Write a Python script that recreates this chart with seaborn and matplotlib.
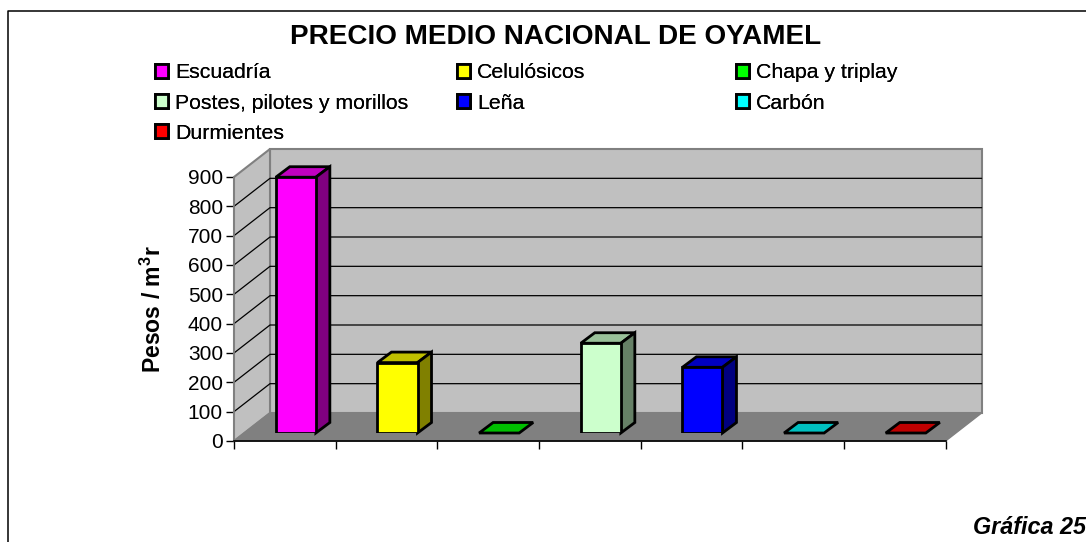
import pandas as pd
import numpy as np
import matplotlib.pyplot as plt
import seaborn as sns
from matplotlib.lines import Line2D
from matplotlib.patches import Polygon

categorias = ["Escuadría", "Celulósicos", "Chapa y triplay", "Postes, pilotes y morillos",
              "Leña", "Carbón", "Durmientes"]
precios = [872, 240, 0, 306, 224, 0, 0]
frente = ["#FF00FF", "#FFFF00", "#00FF00", "#CCFFCC", "#0000FF", "#00FFFF", "#FF0000"]
arriba = ["#C000C0", "#C0C000", "#00C000", "#99C099", "#0000C0", "#00C0C0", "#C00000"]
lado = ["#800080", "#808000", "#008000", "#668066", "#000080", "#008080", "#800000"]
ticks_y = [0, 100, 200, 300, 400, 500, 600, 700, 800, 900]
columnas_legenda = [[0, 3, 6], [1, 4], [2, 5]]

W, H = 1086, 542
sns.set_style("white")
plt.rcParams['font.family'] = ['Liberation Sans']
plt.rcParams['mathtext.fontset'] = 'custom'
plt.rcParams['mathtext.bf'] = 'Liberation Sans:bold'
plt.rcParams['text.color'] = 'black'
plt.rcParams['xtick.color'] = 'black'
plt.rcParams['ytick.color'] = 'black'

df = pd.DataFrame({"categoria": categorias, "precio": precios})
fig = plt.figure(figsize=(W / 100, H / 100), dpi=100)


def caja(x0, y_base, y_tope, ancho=711.6):
    # pixeles a fraccion de figura
    return [x0 / W, 1 - y_base / H, ancho / W, (y_base - y_tope) / H]


ax = fig.add_axes(caja(234, 441, 177))
ax_b = fig.add_axes(caja(245, 433, 169))
for a in (ax, ax_b):
    a.set_xlim(-0.5, 6.5)
    a.set_ylim(0, 900)
ppx = 7 / 711.6
ppy = 900 / 264
dx, dy = 36 * ppx, 28 * ppy

# paredes y piso
gris = "#808080"
ax.add_patch(Polygon([(-0.5 + dx, dy), (6.5 + dx, dy), (6.5 + dx, 900 + dy), (-0.5 + dx, 900 + dy)],
                     fc="#C0C0C0", ec=gris, lw=1.5, clip_on=False, zorder=1))
ax.add_patch(Polygon([(-0.5, 0), (-0.5 + dx, dy), (-0.5 + dx, 900 + dy), (-0.5, 900)],
                     fc="#C0C0C0", ec=gris, lw=1.5, clip_on=False, zorder=1))
ax.add_patch(Polygon([(-0.5, 0), (6.5, 0), (6.5 + dx, dy), (-0.5 + dx, dy)],
                     fc=gris, ec=gris, lw=1, clip_on=False, zorder=2))
for t in ticks_y[1:-1]:
    ax.plot([-0.5, -0.5 + dx, 6.5 + dx], [t, t + dy, t + dy], color="black", lw=0.9,
            clip_on=False, zorder=2)

ax.set_xticks(np.arange(-0.5, 7, 1))
ax.set_xticklabels([])
ax.set_yticks(ticks_y)
ax.tick_params(axis="both", length=6, width=1, color="black", left=True, bottom=True)
ax.tick_params(axis="y", labelsize=15, pad=2)
ax.patch.set_visible(False)
sns.despine(ax=ax, top=True, right=True)
for s in ("left", "bottom"):
    ax.spines[s].set_color("black")
    ax.spines[s].set_linewidth(1.2)
    ax.spines[s].set_zorder(3)
ax.spines["left"].set_color(gris)
ax.set_ylabel("")

# barras
sns.barplot(data=df, x="categoria", y="precio", hue="categoria", hue_order=categorias,
            order=categorias, palette=frente, saturation=1, dodge=False, width=0.394,
            edgecolor="black", linewidth=2, legend=False, ax=ax_b, zorder=4)
ax_b.set_xlim(-0.5, 6.5)
ax_b.set_ylim(0, 900)
ax_b.axis("off")
ax_b.patch.set_visible(False)

bx, by = 14 * ppx, 10.5 * ppy
m = 0.394 / 2
for i, v in enumerate(precios):
    ax_b.add_patch(Polygon([(i - m, v), (i + m, v), (i + m + bx, v + by), (i - m + bx, v + by)],
                           fc=arriba[i], ec="black", lw=2, clip_on=False, zorder=3))
    if v > 0:
        ax_b.add_patch(Polygon([(i + m, 0), (i + m + bx, by), (i + m + bx, v + by), (i + m, v)],
                               fc=lado[i], ec="black", lw=2, clip_on=False, zorder=3))

# textos
fig.text(556 / W, 1 - 37.5 / H, "PRECIO MEDIO NACIONAL DE OYAMEL", ha="center", va="center",
         fontsize=20.1, fontweight="bold")
fig.text(153 / W, 1 - 309 / H, r"Pesos / m$^{\mathbf{3}}$r", rotation=90, ha="center", va="center",
         fontsize=16.6, fontweight="bold")
fig.text(973 / W, 1 - 528 / H, "Gráfica 25", ha="left", va="center", fontsize=16.8,
         fontweight="bold", fontstyle="italic")

# leyenda en tres columnas
x_col = [155, 457, 736]
for x0, idx in zip(x_col, columnas_legenda):
    handles = [ax_b.containers[i][0] for i in idx]
    etiquetas = [categorias[i] for i in idx]
    fig.add_artist(fig.legend(handles, etiquetas, loc="upper left", frameon=False,
                              bbox_to_anchor=(x0 / W, 1 - 63.5 / H), borderaxespad=0, borderpad=0,
                              fontsize=15.3, handlelength=0.62, handleheight=0.62,
                              handletextpad=0.33, labelspacing=0.52))

# marco
fig.add_artist(Line2D([8 / W, 8 / W, 1], [0, 1 - 11 / H, 1 - 11 / H], color="black", lw=1.1))

plt.savefig('out.png', dpi=100)
